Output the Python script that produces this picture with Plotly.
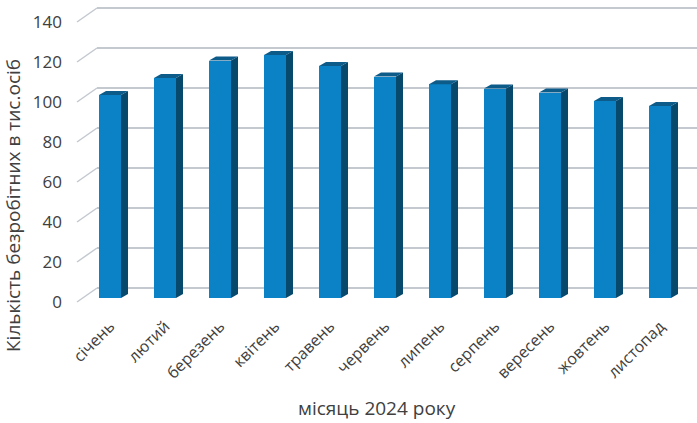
import plotly.graph_objects as go

# ---- data ----
months = ["січень", "лютий", "березень", "квітень", "травень", "червень",
          "липень", "серпень", "вересень", "жовтень", "листопад"]
values = [101.5, 110, 118.7, 121.5, 116, 110.7, 106.9, 104.7, 102.7, 98.5, 96]
y_ticks = [0, 20, 40, 60, 80, 100, 120, 140]
y_title = "Кількість безробітних в тис.осіб"
x_title = "місяць 2024 року"

# ---- style / layout constants ----
W, H = 697, 423
FONT = "Open Sans"
TXT = "#404040"
GRID = "#C3C9CE"
FRONT = "#0B82C6"
SIDE = "#07496D"
TOP = "#0C5B89"

PX_PER_CAT = 55.0          # horizontal spacing of categories in px
X0_PX = 110.0              # px of first category centre
PX_PER_UNIT = 2.0          # vertical px per data unit
BAR_W = 0.4                # bar width in category units
DEPTH_X = 7 / PX_PER_CAT   # 3-D depth offset in category units
DEPTH_Y = 4 / PX_PER_UNIT  # 3-D depth offset in value units
WALL_SHIFT = 10 / PX_PER_UNIT   # back wall above bar front
LABEL_SHIFT = 4 / PX_PER_UNIT   # labels below bar front
DOM_BOT, DOM_TOP = 306, 4       # px
BAR_ZERO = 298                  # px of value 0 at bar front

bar_lo = -(DOM_BOT - BAR_ZERO) / PX_PER_UNIT
bar_hi = (BAR_ZERO - DOM_TOP) / PX_PER_UNIT
ydom = [1 - DOM_BOT / H, 1 - DOM_TOP / H]

idx = list(range(len(months)))

fig = go.Figure()

# back-wall subplot (gridlines only)
fig.add_trace(go.Scatter(x=[0.5], y=[0], mode="markers", marker=dict(opacity=0),
                         hoverinfo="skip", showlegend=False, xaxis="x", yaxis="y"))

# floor diagonals at the left of each gridline
wall_left = (97 - X0_PX) / PX_PER_CAT
front_left = (77 - X0_PX) / PX_PER_CAT
dx, dy = [], []
for v in y_ticks:
    dx += [front_left, wall_left, None]
    dy += [v - LABEL_SHIFT, v + WALL_SHIFT, None]
fig.add_trace(go.Scatter(x=dx, y=dy, mode="lines", line=dict(color=GRID, width=1.5),
                         hoverinfo="skip", showlegend=False, xaxis="x2", yaxis="y2"))

# front faces
fig.add_trace(go.Bar(x=idx, y=values, width=BAR_W, marker=dict(color=FRONT, line=dict(width=0)),
                     showlegend=False, xaxis="x2", yaxis="y2"))

# side faces
sx, sy = [], []
for i, v in zip(idx, values):
    r = i + BAR_W / 2
    sx += [r, r + DEPTH_X, r + DEPTH_X, r, r, None]
    sy += [0, DEPTH_Y, v + DEPTH_Y, v, 0, None]
fig.add_trace(go.Scatter(x=sx, y=sy, mode="lines", fill="toself", fillcolor=SIDE,
                         line=dict(width=0, color=SIDE), hoverinfo="skip", showlegend=False,
                         xaxis="x2", yaxis="y2"))
# top faces
tx, ty = [], []
for i, v in zip(idx, values):
    l, r = i - BAR_W / 2, i + BAR_W / 2
    tx += [l, r, r + DEPTH_X, l + DEPTH_X, l, None]
    ty += [v, v, v + DEPTH_Y, v + DEPTH_Y, v, None]
fig.add_trace(go.Scatter(x=tx, y=ty, mode="lines", fill="toself", fillcolor=TOP,
                         line=dict(width=0, color=TOP), hoverinfo="skip", showlegend=False,
                         xaxis="x2", yaxis="y2"))

# label axis helper trace
fig.add_trace(go.Scatter(x=[0], y=[0], mode="markers", marker=dict(opacity=0),
                         hoverinfo="skip", showlegend=False, xaxis="x2", yaxis="y3"))

hidden = dict(showgrid=False, zeroline=False, showline=False, showticklabels=False,
              ticks="", automargin=False)

fig.update_layout(
    template="none",
    width=W, height=H,
    margin=dict(l=0, r=0, t=0, b=0, pad=0),
    paper_bgcolor="white", plot_bgcolor="rgba(0,0,0,0)",
    font=dict(family=FONT, color=TXT, size=17),
    xaxis=dict(domain=[97 / W, 1], range=[0, 1], anchor="y", **hidden),
    yaxis=dict(domain=ydom, range=[bar_lo - WALL_SHIFT, bar_hi - WALL_SHIFT], anchor="x",
               tickvals=y_ticks, showgrid=True, gridcolor=GRID, gridwidth=1.5,
               zeroline=False, showline=False, showticklabels=False, ticks="",
               automargin=False),
    xaxis2=dict(domain=[0, 1], range=[(0 - X0_PX) / PX_PER_CAT, (W - X0_PX) / PX_PER_CAT],
                anchor="free", position=1 - 313 / H,
                tickvals=idx, ticktext=months, tickangle=-45,
                showgrid=False, zeroline=False, showline=False, ticks="",
                tickfont=dict(size=16), automargin=False),
    yaxis2=dict(domain=ydom, range=[bar_lo, bar_hi], anchor="x2", **hidden),
    yaxis3=dict(domain=ydom, range=[bar_lo + LABEL_SHIFT, bar_hi + LABEL_SHIFT],
                overlaying="y2", anchor="free", position=62 / W, side="left",
                tickvals=y_ticks, showgrid=False, zeroline=False, showline=False, ticks="",
                tickfont=dict(size=17), automargin=False),
    bargap=0,
    annotations=[
        dict(text=y_title, xref="paper", yref="paper", x=13 / W, y=1 - 206 / H,
             textangle=-90, showarrow=False, font=dict(size=19, color=TXT),
             xanchor="center", yanchor="middle"),
        dict(text=x_title, xref="paper", yref="paper", x=377 / W, y=1 - 408 / H,
             showarrow=False, font=dict(size=19, color=TXT),
             xanchor="center", yanchor="middle"),
    ],
)

fig.write_html("out.html", config={"displayModeBar": False},
               post_script="document.body.style.margin='0';")
